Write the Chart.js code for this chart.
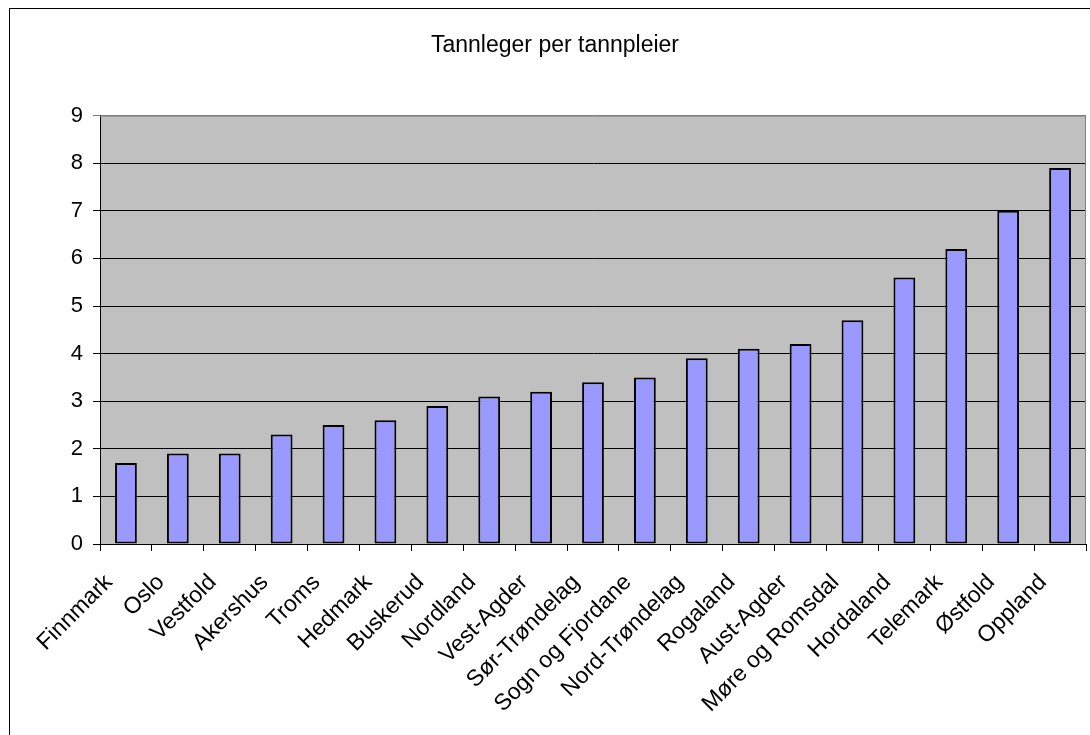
<!DOCTYPE html>
<html>
<head>
<meta charset="utf-8">
<script src="https://cdn.jsdelivr.net/npm/chart.js@4/dist/chart.umd.min.js"></script>
<style>
  body { margin: 0; background: #fff; }
  #wrap { width: 1090px; height: 735px; }
</style>
</head>
<body>
<div id="wrap"><canvas id="chart" width="1090" height="735"></canvas></div>
<script>
const counties = ['Finnmark', 'Oslo', 'Vestfold', 'Akershus', 'Troms', 'Hedmark', 'Buskerud',
  'Nordland', 'Vest-Agder', 'Sør-Trøndelag', 'Sogn og Fjordane', 'Nord-Trøndelag', 'Rogaland',
  'Aust-Agder', 'Møre og Romsdal', 'Hordaland', 'Telemark', 'Østfold', 'Oppland'];
const ratio = [1.7, 1.9, 1.9, 2.3, 2.5, 2.6, 2.9, 3.1, 3.2, 3.4, 3.5, 3.9, 4.1, 4.2, 4.7, 5.6, 6.2, 7.0, 7.9];
const yTicks = [0, 1, 2, 3, 4, 5, 6, 7, 8, 9];

Chart.defaults.font.family = '"Liberation Sans", Arial, sans-serif';
Chart.defaults.color = '#000';

// grey plot area + outer frame, Excel style
const frame = {
  id: 'frame',
  beforeDraw(chart) {
    const { ctx, chartArea: a } = chart;
    ctx.save();
    ctx.fillStyle = '#fff';
    ctx.fillRect(0, 0, chart.width, chart.height);
    ctx.fillStyle = '#c0c0c0';
    ctx.fillRect(a.left, a.top, a.right - a.left, a.bottom - a.top);
    ctx.strokeStyle = '#000';
    ctx.lineWidth = 1;
    ctx.strokeRect(9.5, 8.5, chart.width + 20, chart.height + 20);
    ctx.restore();
  },
  afterDatasetsDraw(chart) {
    const { ctx, chartArea: a } = chart;
    ctx.save();
    ctx.strokeStyle = '#808080';
    ctx.lineWidth = 1;
    ctx.beginPath();
    ctx.moveTo(a.left, a.top + 0.5);
    ctx.lineTo(a.right - 0.5, a.top + 0.5);
    ctx.lineTo(a.right - 0.5, a.bottom);
    ctx.stroke();
    ctx.restore();
  }
};

new Chart(document.getElementById('chart'), {
  type: 'bar',
  data: {
    labels: counties,
    datasets: [{
      data: ratio,
      backgroundColor: '#9999ff',
      borderColor: '#000',
      borderWidth: 2,
      borderSkipped: false,
      categoryPercentage: 1,
      barPercentage: 0.42
    }]
  },
  options: {
    responsive: false,
    animation: false,
    layout: { padding: { left: 24, right: 4, top: 0, bottom: 0 } },
    plugins: {
      legend: { display: false },
      tooltip: { enabled: false },
      title: {
        display: true,
        text: 'Tannleger per tannpleier',
        color: '#000',
        font: { size: 23, weight: 'normal' },
        padding: { top: 32, bottom: 56 }
      }
    },
    scales: {
      x: {
        grid: { drawOnChartArea: false, drawTicks: true, tickLength: 7, color: '#000', offset: true },
        border: { display: true, color: '#000', width: 1 },
        ticks: {
          autoSkip: false, minRotation: 45, maxRotation: 45,
          padding: 18, labelOffset: -17, font: { size: 23 }
        },
        afterFit(scale) {
          scale.height = 191;
          scale.paddingLeft = 0;
          scale.paddingRight = 0;
        }
      },
      y: {
        min: 0,
        max: 9,
        afterBuildTicks(scale) { scale.ticks = yTicks.map(v => ({ value: v })); },
        grid: {
          color: ctx => ctx.tick && ctx.tick.value === 9 ? '#808080' : '#000',
          tickLength: 7,
          drawTicks: true
        },
        border: { display: true, color: '#000', width: 1 },
        ticks: { padding: 10, font: { size: 22 } },
        afterFit(scale) { scale.width = 76; }
      }
    }
  },
  plugins: [frame]
});
</script>
</body>
</html>
